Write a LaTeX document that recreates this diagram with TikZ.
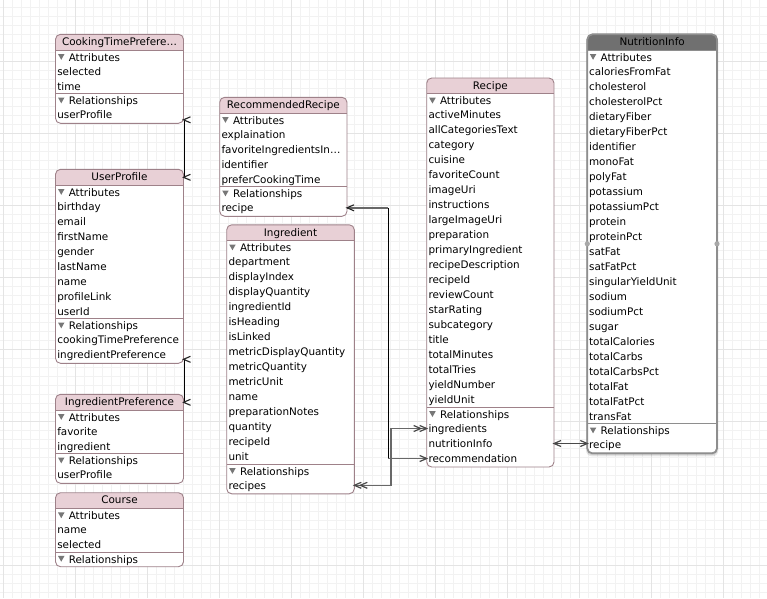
\documentclass[tikz,border=0pt]{standalone}
\usepackage{fontspec}
\setmainfont{DejaVu Sans}
\usetikzlibrary{calc}
\definecolor{headpink}{HTML}{E8D0D6}
\definecolor{boxline}{HTML}{9E8189}
\definecolor{gridminor}{HTML}{F2F2F2}
\definecolor{gridmajor}{HTML}{E4E4E4}
\definecolor{selhead}{HTML}{707070}
\definecolor{selline}{HTML}{8E8E8E}
\definecolor{conngrey}{HTML}{686868}
\definecolor{trigrey}{HTML}{777777}
\definecolor{handlegrey}{HTML}{A8A8A8}

\tikzset{
  rowtext/.style={anchor=base west, inner sep=0pt, outer sep=0pt, font=\fontsize{10.4}{12}\selectfont},
  titletext/.style={anchor=base, inner sep=0pt, outer sep=0pt, font=\fontsize{10.4}{12}\selectfont},
  entitybox/.style={rounded corners=5pt, inner sep=0pt, outer sep=0pt, line width=0.9pt},
  sepline/.style={line width=0.9pt},
  gridline/.style={line width=0.8pt},
  blackconn/.style={draw=black, line width=0.9pt},
  greyconn/.style={draw=conngrey, line width=1.6pt},
  chevstyle/.style={draw=black!85, line width=1.1pt},
  midconn/.style={draw=conngrey!70!black, line width=1.2pt},
  chevleft/.pic={\draw[pic actions] (7,-3) -- (0,0) -- (7,3);},
  chevright/.pic={\draw[pic actions] (-7,-3) -- (0,0) -- (-7,3);},
  dchevleft/.pic={\draw[pic actions] (7,-3) -- (0,0) -- (7,3) (13,-3) -- (6,0) -- (13,3);},
  dchevright/.pic={\draw[pic actions] (-7,-3) -- (0,0) -- (-7,3) (-13,-3) -- (-6,0) -- (-13,3);},
}

% #1 id, #2 title, #3 left x, #4 right x, #5 top y, #6 attributes, #7 relationships, #8 header fill, #9 line colour
\newcommand\erentity[9]{%
  \xdef\erNA{0}%
  \foreach \a [count=\i] in {#6}{\xdef\erNA{\i}}%
  \xdef\erNR{0}%
  \if\relax\detokenize{#7}\relax\else\foreach \a [count=\i] in {#7}{\xdef\erNR{\i}}\fi
  \pgfmathsetmacro\erSep{#5+29.5+15*\erNA}%
  \pgfmathsetmacro\erBot{\erSep+14.5+15*\erNR}%
  \pgfmathsetmacro\erHead{#5+15.7}%
  \pgfmathsetmacro\erMid{(#3+#4)/2}%
  \pgfmathsetmacro\erW{#4-#3}%
  \pgfmathsetmacro\erH{\erBot-#5}%
  \begin{scope}
    \clip[rounded corners=5pt] (#3,#5) rectangle (#4,\erBot);
    \fill[white] (#3,#5) rectangle (#4,\erBot);
    \fill[#8] (#3,#5) rectangle (#4,\erHead);
  \end{scope}
  \draw[sepline, draw=#9] (#3,\erHead) -- (#4,\erHead);
  \draw[sepline, draw=#9] (#3,\erSep) -- (#4,\erSep);
  \node[entitybox, draw=#9, minimum width=\erW pt, minimum height=\erH pt, anchor=north west] (#1) at (#3,#5) {};
  \node[titletext] (#1-title) at (\erMid,{#5+11.2}) {#2};
  \fill[trigrey] ({#3+2.5},{#5+19.7}) -- ({#3+9},{#5+19.7}) -- ({#3+5.75},{#5+25.5}) -- cycle;
  \node[rowtext] (#1-attrs) at ({#3+13.3},{#5+26.8}) {Attributes};
  \foreach \a [count=\i from 0] in {#6}{%
    \node[rowtext] (#1-a\i) at ({#3+1.8},{#5+40.8+15*\i}) {\a};}%
  \fill[trigrey] ({#3+2.5},{\erSep+3.7}) -- ({#3+9},{\erSep+3.7}) -- ({#3+5.75},{\erSep+9.5}) -- cycle;
  \node[rowtext] (#1-rels) at ({#3+13.3},{\erSep+10.8}) {Relationships};
  \if\relax\detokenize{#7}\relax\else
  \foreach \a [count=\i from 0] in {#7}{%
    \coordinate (#1-r-\a) at (#3,{\erSep+21+15*\i});
    \node[rowtext] (#1-rt-\a) at ({#3+1.8},{\erSep+24.8+15*\i}) {\a};}%
  \fi
}

\begin{document}
\begin{tikzpicture}[x=1pt,y=-1pt]
\useasboundingbox (0,0) rectangle (767,598);
\fill[white] (0,0) rectangle (767,598);
% grid
\foreach \k in {0,...,84} \draw[gridminor, gridline] ({3.7+9*\k},0) -- ({3.7+9*\k},598);
\foreach \k in {0,...,66} \draw[gridminor, gridline] (0,{7.3+9*\k}) -- (767,{7.3+9*\k});
\foreach \k in {0,...,10} \draw[gridmajor, gridline] ({3.7+72*\k},0) -- ({3.7+72*\k},598);
\foreach \k in {0,...,7} \draw[gridmajor, gridline] (0,{61.3+72*\k}) -- (767,{61.3+72*\k});

% entities
\erentity{ctp}{CookingTimePrefere…}{55.5}{183.5}{34.3}{selected,time}{userProfile}{headpink}{boxline}
\erentity{up}{UserProfile}{55.5}{183.5}{169.3}{birthday,email,firstName,gender,lastName,name,profileLink,userId}{cookingTimePreference,ingredientPreference}{headpink}{boxline}
\erentity{ip}{IngredientPreference}{55.5}{183.5}{394.3}{favorite,ingredient}{userProfile}{headpink}{boxline}
\erentity{course}{Course}{55.5}{183.5}{492.7}{name,selected}{}{headpink}{boxline}
\erentity{rr}{RecommendedRecipe}{219.7}{347}{97.3}{explaination,favoriteIngredientsIn…,identifier,preferCookingTime}{recipe}{headpink}{boxline}
\erentity{ing}{Ingredient}{226.7}{354.3}{224.8}{department,displayIndex,displayQuantity,ingredientId,isHeading,isLinked,metricDisplayQuantity,metricQuantity,metricUnit,name,preparationNotes,quantity,recipeId,unit}{recipes}{headpink}{boxline}
\erentity{recipe}{Recipe}{426.7}{554}{78}{activeMinutes,allCategoriesText,category,cuisine,favoriteCount,imageUri,instructions,largeImageUri,preparation,primaryIngredient,recipeDescription,recipeId,reviewCount,starRating,subcategory,title,totalMinutes,totalTries,yieldNumber,yieldUnit}{ingredients,nutritionInfo,recommendation}{headpink}{boxline}

% selected entity shadow
\fill[black, opacity=0.10, rounded corners=6pt] (586.0,36.0) rectangle (718.3,456.3);
\fill[black, opacity=0.10, rounded corners=6pt] (586.6,35.3) rectangle (717.7,455.0);
\erentity{ni}{NutritionInfo}{587.3}{717}{34.3}{caloriesFromFat,cholesterol,cholesterolPct,dietaryFiber,dietaryFiberPct,identifier,monoFat,polyFat,potassium,potassiumPct,protein,proteinPct,satFat,satFatPct,singularYieldUnit,sodium,sodiumPct,sugar,totalCalories,totalCarbs,totalCarbsPct,totalFat,totalFatPct,transFat}{recipe}{selhead}{selline}
\draw[selline, line width=1.7pt, rounded corners=5pt] (ni.north west) rectangle (ni.south east);
\fill[handlegrey] (ni.west) circle (2.6);
\fill[handlegrey] (ni.east) circle (2.6);

% connectors
\coordinate (bendC) at (388.3,0);
\coordinate (bendD) at (391,0);

% CookingTimePreference -- UserProfile
\coordinate (ctpEnd) at ([yshift=3.5pt]ctp.south east);
\coordinate (upTop) at ([yshift=-8pt]up.north east);
\draw[blackconn] ([xshift=1.1pt]ctpEnd) -- ([xshift=1.1pt]upTop);
\pic[chevstyle] at (ctpEnd) {chevleft};
\pic[chevstyle] at (upTop) {chevleft};

% UserProfile -- IngredientPreference
\coordinate (upEnd) at ([yshift=4pt]up.south east);
\coordinate (ipTop) at ([yshift=-8pt]ip.north east);
\draw[blackconn] ([xshift=1.1pt]upEnd) -- ([xshift=1.1pt]ipTop);
\pic[chevstyle] at (upEnd) {chevleft};
\pic[chevstyle] at (ipTop) {chevleft};

% RecommendedRecipe.recipe -- Recipe.recommendation
\coordinate (rrEnd) at (rr.east |- rr-r-recipe);
\draw[greyconn] (rrEnd) -- (rrEnd -| bendC);
\draw[blackconn] (rrEnd -| bendC) -- (recipe-r-recommendation -| bendC);
\draw[greyconn] (recipe-r-recommendation -| bendC) -- (recipe-r-recommendation);
\pic[chevstyle] at (rrEnd) {chevleft};
\pic[midconn] at (recipe-r-recommendation) {chevright};

% Ingredient.recipes -- Recipe.ingredients
\coordinate (ingEnd) at (ing.east |- ing-r-recipes);
\draw[greyconn] (ingEnd) -- (ingEnd -| bendD) -- (recipe-r-ingredients -| bendD) -- (recipe-r-ingredients);
\pic[midconn] at (ingEnd) {dchevleft};
\pic[midconn] at (recipe-r-ingredients) {dchevright};

% Recipe.nutritionInfo -- NutritionInfo.recipe
\coordinate (recNEnd) at (recipe.east |- recipe-r-nutritionInfo);
\draw[midconn] (recNEnd) -- (recNEnd -| ni.west);
\pic[midconn] at (recNEnd) {chevleft};
\pic[midconn] at (recNEnd -| ni.west) {chevright};
\end{tikzpicture}
\end{document}
